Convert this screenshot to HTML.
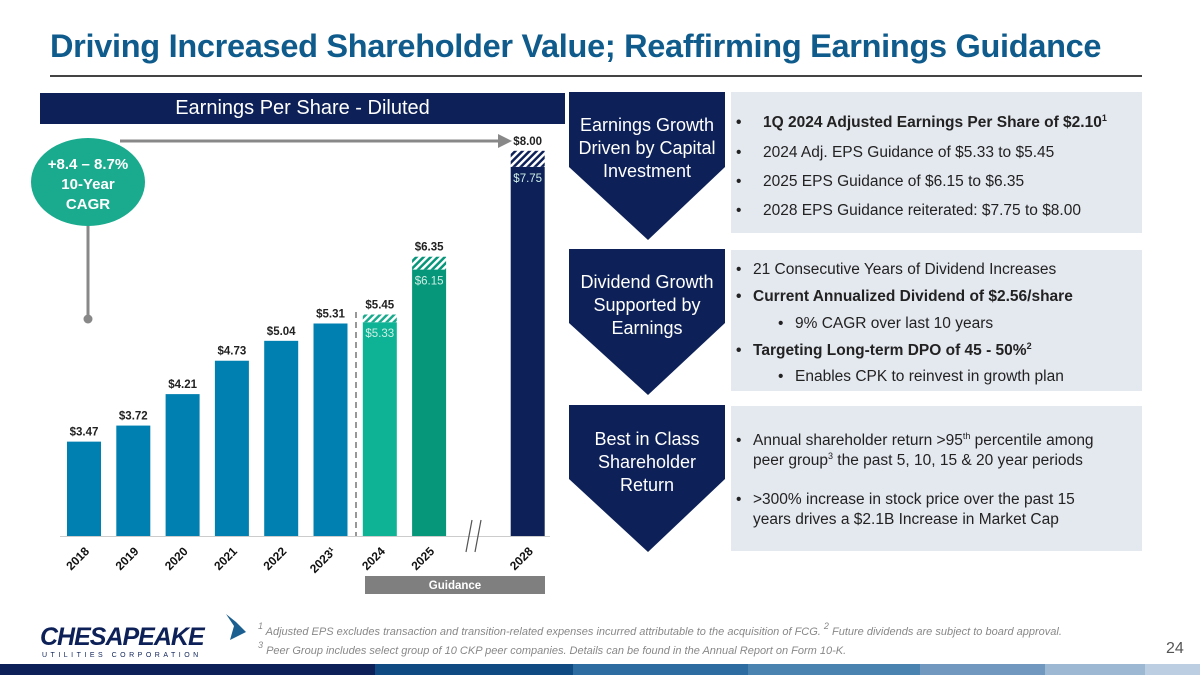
<!DOCTYPE html>
<html><head><meta charset="utf-8">
<style>
body{margin:0;width:1200px;height:675px;overflow:hidden;background:#fff;font-family:"Liberation Sans",sans-serif;position:relative}
.abs{position:absolute}
.title{left:50px;top:28px;font-size:32.5px;font-weight:bold;color:#0f5b8c;letter-spacing:-0.3px;white-space:nowrap}
.rule{left:50px;top:75px;width:1092px;height:2px;background:#444}
.hdr{left:40px;top:93px;width:525px;height:31px;background:#0d2158;color:#fff;font-size:20px;text-align:center;line-height:31px}
.panel{background:#e4e8ef;left:731px;width:411px}
.ctext{color:#fff;font-size:18px;text-align:center;line-height:23px;width:156px}
.b{font-size:15.5px;color:#222;line-height:20px}
sup{font-size:9px;line-height:0;vertical-align:6px}
.foot{font-size:11px;color:#888;font-style:italic;white-space:nowrap}
</style></head><body>
<div class="abs title">Driving Increased Shareholder Value; Reaffirming Earnings Guidance</div>
<div class="abs rule"></div>
<div class="abs hdr">Earnings Per Share - Diluted</div>

<svg class="abs" style="left:0;top:0" width="730" height="610">
<defs>
<pattern id="h1" width="5" height="5" patternUnits="userSpaceOnUse" patternTransform="rotate(45)"><rect width="5" height="5" fill="#fff"/><rect width="2.5" height="5" fill="#1aab8e"/></pattern>
<pattern id="h2" width="5" height="5" patternUnits="userSpaceOnUse" patternTransform="rotate(45)"><rect width="5" height="5" fill="#fff"/><rect width="2.5" height="5" fill="#06967a"/></pattern>
<pattern id="h3" width="5" height="5" patternUnits="userSpaceOnUse" patternTransform="rotate(45)"><rect width="5" height="5" fill="#fff"/><rect width="2.5" height="5" fill="#0d2158"/></pattern>
</defs>
<g id="bars"></g>
</svg>

<script>
const years=["2018","2019","2020","2021","2022","2023","2024","2025","2028"];
const slots=[0,1,2,3,4,5,6,7,9];
const lowValues=[3.47,3.72,4.21,4.73,5.04,5.31,5.33,6.15,7.75];
const highValues=[null,null,null,null,null,null,5.45,6.35,8.00];
const labels=["$3.47","$3.72","$4.21","$4.73","$5.04","$5.31","$5.33","$6.15","$7.75"];
const highLabels=[null,null,null,null,null,null,"$5.45","$6.35","$8.00"];
const base=536,yMin=2.0,scale=64.2,x0=84,step=49.3,bw=34;
function y(v){return base-(v-yMin)*scale;}
function x(i){return x0+slots[i]*step;}
const NS="http://www.w3.org/2000/svg";
const g=document.getElementById('bars');
function mk(t,a){const e=document.createElementNS(NS,t);for(const k in a)e.setAttribute(k,a[k]);g.appendChild(e);return e;}
const fills=["#0080b0","#0080b0","#0080b0","#0080b0","#0080b0","#0080b0","#0db394","#06967a","#0d2158"];
const hatch=[null,null,null,null,null,null,"url(#h1)","url(#h2)","url(#h3)"];
let ax=mk('line',{x1:60,x2:550,y1:base+0.5,y2:base+0.5,stroke:'#ccc','stroke-width':1});


for(let i=0;i<years.length;i++){
  const cx=x(i);
  const r=mk('rect',{x:cx-bw/2,y:y(lowValues[i]),width:bw,height:base-y(lowValues[i]),fill:fills[i]});
  
  
  if(highValues[i]!=null){
    const h=mk('rect',{x:cx-bw/2,y:y(highValues[i]),width:bw,height:y(lowValues[i])-y(highValues[i]),fill:hatch[i]});
    
    
    const t=mk('text',{x:cx,y:y(highValues[i])-6,'text-anchor':'middle','font-size':11.5,'font-weight':'bold',fill:'#222'});
    t.textContent=highLabels[i];
    
    
    const t2=mk('text',{x:cx,y:y(lowValues[i])+15,'text-anchor':'middle','font-size':11.5,fill:'#cfeee6'});
    t2.textContent=labels[i];
    
    
  }else{
    const t=mk('text',{x:cx,y:y(lowValues[i])-6,'text-anchor':'middle','font-size':11.5,'font-weight':'bold',fill:'#222'});
    t.textContent=labels[i];
    
    
  }
  const yl=mk('text',{x:cx+6,y:552,'text-anchor':'end','font-size':12,'font-weight':'bold',fill:'#111',transform:`rotate(-45 ${cx+6} 552)`});
  yl.textContent=years[i]+(years[i]==="2023"?"¹":"");
  
  
}
</script>

<svg class="abs" style="left:0;top:0" width="600" height="610">
<line x1="356" y1="312" x2="356" y2="536" stroke="#777" stroke-width="1.5" stroke-dasharray="6,4"/>
<line x1="472" y1="520" x2="466" y2="552" stroke="#555" stroke-width="1.2"/>
<line x1="481" y1="520" x2="475" y2="552" stroke="#555" stroke-width="1.2"/>
<line x1="120" y1="141" x2="500" y2="141" stroke="#888" stroke-width="3"/>
<polygon points="498,134 512,141 498,148" fill="#888"/>
<line x1="88" y1="225" x2="88" y2="318" stroke="#888" stroke-width="3"/>
<circle cx="88" cy="319" r="4.5" fill="#888"/>
<ellipse cx="88" cy="182" rx="57" ry="44" fill="#1aab8e"/>
<text x="88" y="169" text-anchor="middle" fill="#fff" font-size="15" font-weight="bold">+8.4 – 8.7%</text>
<text x="88" y="189" text-anchor="middle" fill="#fff" font-size="15" font-weight="bold">10-Year</text>
<text x="88" y="209" text-anchor="middle" fill="#fff" font-size="15" font-weight="bold">CAGR</text>
<rect x="365" y="576" width="180" height="18" fill="#7f7f7f"/>
<text x="455" y="589" text-anchor="middle" fill="#fff" font-size="11.5" font-weight="bold">Guidance</text>
</svg>

<div class="abs panel" style="top:92px;height:141px"></div>
<div class="abs panel" style="top:250px;height:141px"></div>
<div class="abs panel" style="top:406px;height:145px"></div>
<svg class="abs" style="left:569px;top:0" width="160" height="560">
<polygon points="0,92 156,92 156,167 79,240 0,167" fill="#0d2158"/>
<polygon points="0,249 156,249 156,323 79,395 0,323" fill="#0d2158"/>
<polygon points="0,405 156,405 156,479 79,552 0,479" fill="#0d2158"/>
</svg>
<div class="abs ctext" style="left:569px;top:114px">Earnings Growth<br>Driven by Capital<br>Investment</div>
<div class="abs ctext" style="left:569px;top:271px">Dividend Growth<br>Supported by<br>Earnings</div>
<div class="abs ctext" style="left:569px;top:428px">Best in Class<br>Shareholder<br>Return</div>

<div class="abs b" style="left:736px;top:113px;font-weight:bold"><span style="position:absolute;left:0">•</span><span style="position:absolute;left:27px;white-space:nowrap">1Q 2024 Adjusted Earnings Per Share of $2.10<sup>1</sup></span></div>
<div class="abs b" style="left:736px;top:143px"><span style="position:absolute;left:0">•</span><span style="position:absolute;left:27px;white-space:nowrap">2024 Adj. EPS Guidance of $5.33 to $5.45</span></div>
<div class="abs b" style="left:736px;top:172px"><span style="position:absolute;left:0">•</span><span style="position:absolute;left:27px;white-space:nowrap">2025 EPS Guidance of $6.15 to $6.35</span></div>
<div class="abs b" style="left:736px;top:201px"><span style="position:absolute;left:0">•</span><span style="position:absolute;left:27px;white-space:nowrap">2028 EPS Guidance reiterated: $7.75 to $8.00</span></div>

<div class="abs b" style="left:736px;top:260px"><span style="position:absolute;left:0">•</span><span style="position:absolute;left:17px;white-space:nowrap">21 Consecutive Years of Dividend Increases</span></div>
<div class="abs b" style="left:736px;top:287px;font-weight:bold"><span style="position:absolute;left:0">•</span><span style="position:absolute;left:17px;white-space:nowrap">Current Annualized Dividend of $2.56/share</span></div>
<div class="abs b" style="left:778px;top:314px"><span style="position:absolute;left:0">•</span><span style="position:absolute;left:17px;white-space:nowrap">9% CAGR over last 10 years</span></div>
<div class="abs b" style="left:736px;top:341px;font-weight:bold"><span style="position:absolute;left:0">•</span><span style="position:absolute;left:17px;white-space:nowrap">Targeting Long-term DPO of 45 - 50%<sup>2</sup></span></div>
<div class="abs b" style="left:778px;top:367px"><span style="position:absolute;left:0">•</span><span style="position:absolute;left:17px;white-space:nowrap">Enables CPK to reinvest in growth plan</span></div>

<div class="abs b" style="left:736px;top:431px"><span style="position:absolute;left:0">•</span><span style="position:absolute;left:17px;white-space:nowrap">Annual shareholder return &gt;95<sup>th</sup> percentile among<br>peer group<sup>3</sup> the past 5, 10, 15 &amp; 20 year periods</span></div>
<div class="abs b" style="left:736px;top:490px"><span style="position:absolute;left:0">•</span><span style="position:absolute;left:17px;white-space:nowrap">&gt;300% increase in stock price over the past 15<br>years drives a $2.1B Increase in Market Cap</span></div>

<div class="abs" style="left:40px;top:623px;font-size:25px;font-weight:bold;font-style:italic;color:#0d2158;letter-spacing:-1px">CHESAPEAKE</div>
<div class="abs" style="left:42px;top:652px;font-size:7px;letter-spacing:3.5px;color:#0d2158">UTILITIES CORPORATION</div>
<svg class="abs" style="left:212px;top:612px" width="36" height="34"><path d="M14 2 L24 10 L34 20 L18 28 L22 14 Z" fill="#1a5f8f"/></svg>
<div class="abs foot" style="left:258px;top:626px"><sup>1</sup> Adjusted EPS excludes transaction and transition-related expenses incurred attributable to the acquisition of FCG. <sup>2</sup> Future dividends are subject to board approval.</div>
<div class="abs foot" style="left:258px;top:645px"><sup>3</sup> Peer Group includes select group of 10 CKP peer companies. Details can be found in the Annual Report on Form 10-K.</div>
<div class="abs" style="left:1166px;top:640px;font-size:16px;color:#555">24</div>
<div class="abs" style="left:0;top:664px;width:1200px;height:11px;display:flex">
<div style="width:375px;background:#0d2158"></div><div style="width:198px;background:#0f4a82"></div><div style="width:175px;background:#2d6ca0"></div><div style="width:172px;background:#4b83b0"></div><div style="width:125px;background:#7199c0"></div><div style="width:100px;background:#9db8d3"></div><div style="width:55px;background:#bccfe2"></div>
</div>
</body></html>
